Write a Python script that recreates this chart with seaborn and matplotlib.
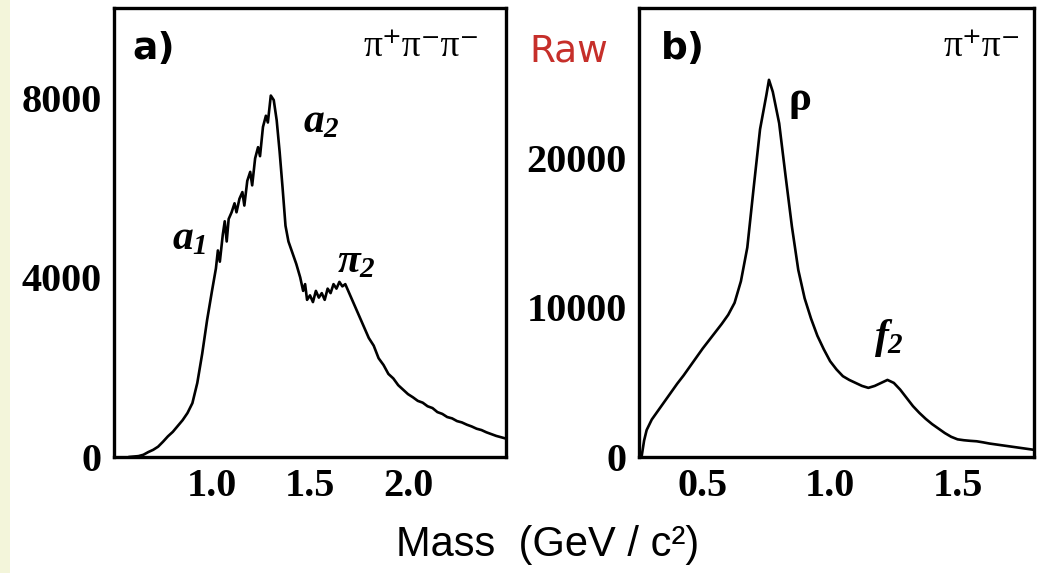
import matplotlib
matplotlib.use("Agg")
import matplotlib.pyplot as plt
import seaborn as sns
from matplotlib.ticker import FixedLocator, FixedFormatter
from matplotlib.patches import Rectangle

# ---------------- data ----------------
# panel a) pi+ pi- pi- invariant mass
mass_3pi = [0.575, 0.600, 0.625, 0.650, 0.675, 0.700, 0.725, 0.750, 0.775, 0.800, 0.825,
            0.850, 0.875, 0.900, 0.925, 0.950, 0.975, 1.000, 1.020, 1.030, 1.040,
            1.055, 1.065, 1.075, 1.085, 1.100, 1.115, 1.125, 1.140, 1.155, 1.165,
            1.180, 1.195, 1.205, 1.220, 1.235, 1.245, 1.260, 1.275, 1.285, 1.300,
            1.315, 1.330, 1.345, 1.360, 1.375, 1.390, 1.410, 1.430, 1.450, 1.465,
            1.475, 1.485, 1.500, 1.515, 1.530, 1.545, 1.560, 1.575, 1.590, 1.605,
            1.620, 1.635, 1.650, 1.665, 1.680, 1.695, 1.710, 1.725, 1.750, 1.775,
            1.800, 1.825, 1.850, 1.875, 1.900, 1.925, 1.950, 1.975, 2.000, 2.025,
            2.050, 2.075, 2.100, 2.125, 2.150, 2.175, 2.200, 2.225, 2.250, 2.275,
            2.300, 2.325, 2.350, 2.375, 2.400, 2.425, 2.450, 2.475, 2.500]
counts_3pi = [0, 10, 20, 50, 110, 160, 230, 340, 460, 560, 690,
              820, 980, 1200, 1650, 2300, 3050, 3700, 4200, 4600, 4350,
              4950, 5250, 4800, 5300, 5450, 5650, 5450, 5750, 5900, 5600,
              6150, 6350, 6050, 6650, 6900, 6700, 7350, 7600, 7450, 8050,
              7950, 7500, 6800, 6000, 5150, 4800, 4550, 4300, 4000, 3700,
              3850, 3500, 3600, 3450, 3700, 3550, 3650, 3500, 3750, 3650,
              3850, 3750, 3900, 3800, 3850, 3700, 3550, 3400, 3150, 2900,
              2650, 2480, 2200, 2050, 1850, 1750, 1600, 1500, 1400, 1330,
              1250, 1210, 1130, 1090, 1000, 960, 890, 860, 800, 770,
              720, 680, 630, 600, 550, 510, 470, 440, 410]

# panel b) pi+ pi- invariant mass
mass_2pi = [0.260, 0.270, 0.280, 0.300, 0.325, 0.350, 0.375, 0.400, 0.425, 0.450,
            0.475, 0.500, 0.525, 0.550, 0.575, 0.600, 0.625, 0.650, 0.675, 0.700,
            0.725, 0.750, 0.760, 0.775, 0.800, 0.825, 0.850, 0.875, 0.900, 0.925,
            0.950, 0.975, 1.000, 1.025, 1.050, 1.075, 1.100, 1.125, 1.150, 1.175,
            1.200, 1.225, 1.250, 1.275, 1.300, 1.325, 1.350, 1.375, 1.400, 1.425,
            1.450, 1.475, 1.500, 1.525, 1.550, 1.575, 1.600, 1.625, 1.650, 1.675,
            1.700, 1.725, 1.750, 1.775, 1.800]
counts_2pi = [0, 1100, 1800, 2500, 3100, 3700, 4300, 4900, 5450, 6050,
              6650, 7250, 7800, 8350, 8900, 9500, 10300, 11750, 14000, 18000,
              21900, 24200, 25200, 24400, 22300, 18800, 15400, 12500, 10600, 9250,
              8100, 7200, 6400, 5850, 5400, 5150, 4950, 4750, 4620, 4750,
              4950, 5150, 4950, 4500, 3950, 3400, 2950, 2550, 2200, 1900,
              1600, 1350, 1180, 1120, 1080, 1050, 980, 900, 840, 780,
              720, 660, 600, 540, 480]

xticks_a = [1.0, 1.5, 2.0]
xlabels_a = ["1.0", "1.5", "2.0"]
yticks_a = [0, 4000, 8000]
ylabels_a = ["0", "4000", "8000"]
yminor_a = [2000, 6000]

xticks_b = [0.5, 1.0, 1.5]
xlabels_b = ["0.5", "1.0", "1.5"]
yticks_b = [0, 10000, 20000]
ylabels_b = ["0", "10000", "20000"]
yminor_b = [5000, 15000, 25000]

# ---------------- style ----------------
sns.set_style("white")
plt.rcParams["font.family"] = ["Liberation Serif", "DejaVu Serif"]
plt.rcParams["text.color"] = "black"
plt.rcParams["xtick.color"] = "black"
plt.rcParams["ytick.color"] = "black"
plt.rcParams["axes.labelcolor"] = "black"
plt.rcParams["mathtext.fontset"] = "custom"
plt.rcParams["mathtext.rm"] = "Liberation Serif:bold:italic"
plt.rcParams["mathtext.it"] = "Liberation Serif:bold:italic"
plt.rcParams["mathtext.bf"] = "Liberation Serif:bold"

W, H = 1051, 573
fig = plt.figure(figsize=(W / 100, H / 100), dpi=100)
fig.patch.set_facecolor("white")
fig.add_artist(Rectangle((0, 0), 10 / W, 1, transform=fig.transFigure,
                         facecolor="#f3f5da", edgecolor="none", zorder=0))

axA = fig.add_axes([114 / W, 116 / H, 392 / W, 449 / H])
axB = fig.add_axes([639 / W, 116 / H, 395 / W, 449 / H])


def style_axis(ax, xlim, ylim, xt, xl, yt, yl, ym):
    ax.set_xlim(*xlim)
    ax.set_ylim(*ylim)
    ax.xaxis.set_major_locator(FixedLocator(xt))
    ax.xaxis.set_major_formatter(FixedFormatter(xl))
    ax.yaxis.set_major_locator(FixedLocator(yt))
    ax.yaxis.set_major_formatter(FixedFormatter(yl))
    ax.yaxis.set_minor_locator(FixedLocator(ym))
    ax.tick_params(which="both", direction="in", length=10, width=2.2,
                   top=False, right=False, color="black", labelcolor="black")
    ax.tick_params(axis="x", pad=8)
    ax.tick_params(axis="y", pad=9)
    for lab in ax.get_xticklabels() + ax.get_yticklabels():
        lab.set_fontfamily(["Liberation Serif", "DejaVu Serif"])
        lab.set_fontweight("bold")
        lab.set_fontsize(29)
        lab.set_color("black")
    for sp in ax.spines.values():
        sp.set_visible(True)
        sp.set_linewidth(2.4)
        sp.set_color("black")
    ax.set_xlabel("")
    ax.set_ylabel("")
    ax.set_facecolor("white")


sns.lineplot(x=mass_3pi, y=counts_3pi, ax=axA, color="black", linewidth=1.9)
sns.lineplot(x=mass_2pi, y=counts_2pi, ax=axB, color="black", linewidth=1.9)

style_axis(axA, (0.5, 2.5), (0, 10000), xticks_a, xlabels_a, yticks_a, ylabels_a, yminor_a)
style_axis(axB, (0.25, 1.8), (0, 30000), xticks_b, xlabels_b, yticks_b, ylabels_b, yminor_b)

# panel labels
axA.text(0.102, 0.909, "a)", transform=axA.transAxes, ha="center", va="center",
         family="DejaVu Sans", weight="bold", fontsize=27, color="black")
axB.text(0.111, 0.909, "b)", transform=axB.transAxes, ha="center", va="center",
         family="DejaVu Sans", weight="bold", fontsize=27, color="black")

# channel labels
axA.text(0.784, 0.914, "π⁺π⁻π⁻", transform=axA.transAxes, ha="center", va="center",
         family=["Liberation Serif", "DejaVu Serif"], fontsize=27, color="black")
axB.text(0.87, 0.914, "π⁺π⁻", transform=axB.transAxes, ha="center", va="center",
         family=["Liberation Serif", "DejaVu Serif"], fontsize=27, color="black")

# resonance annotations
ann = dict(ha="center", va="center", fontsize=30, math_fontfamily="custom", color="black")
axA.text(0.885, 4850, r"$a_1$", **ann)
axA.text(1.556, 7470, r"$a_2$", **ann)
axA.text(1.737, 4350, r"$\pi_2$", **ann)
axB.text(0.883, 23880, "ρ", ha="center", va="center", fontsize=31, color="black",
         family=["Liberation Serif", "DejaVu Serif"], weight="bold")
axB.text(1.232, 7940, r"$f_2$", **ann)

# common x label
fig.text(547.5 / W, (H - 556) / H, "Mass  (GeV / c²)", ha="center", va="baseline",
         family="Liberation Sans", fontsize=30, color="black")

# red "Raw" tag
fig.text(568.5 / W, (H - 52) / H, "Raw", ha="center", va="center",
         family="DejaVu Sans", fontsize=27, color="#c62f2a")

fig.savefig("out.png", dpi=100, facecolor="white")
